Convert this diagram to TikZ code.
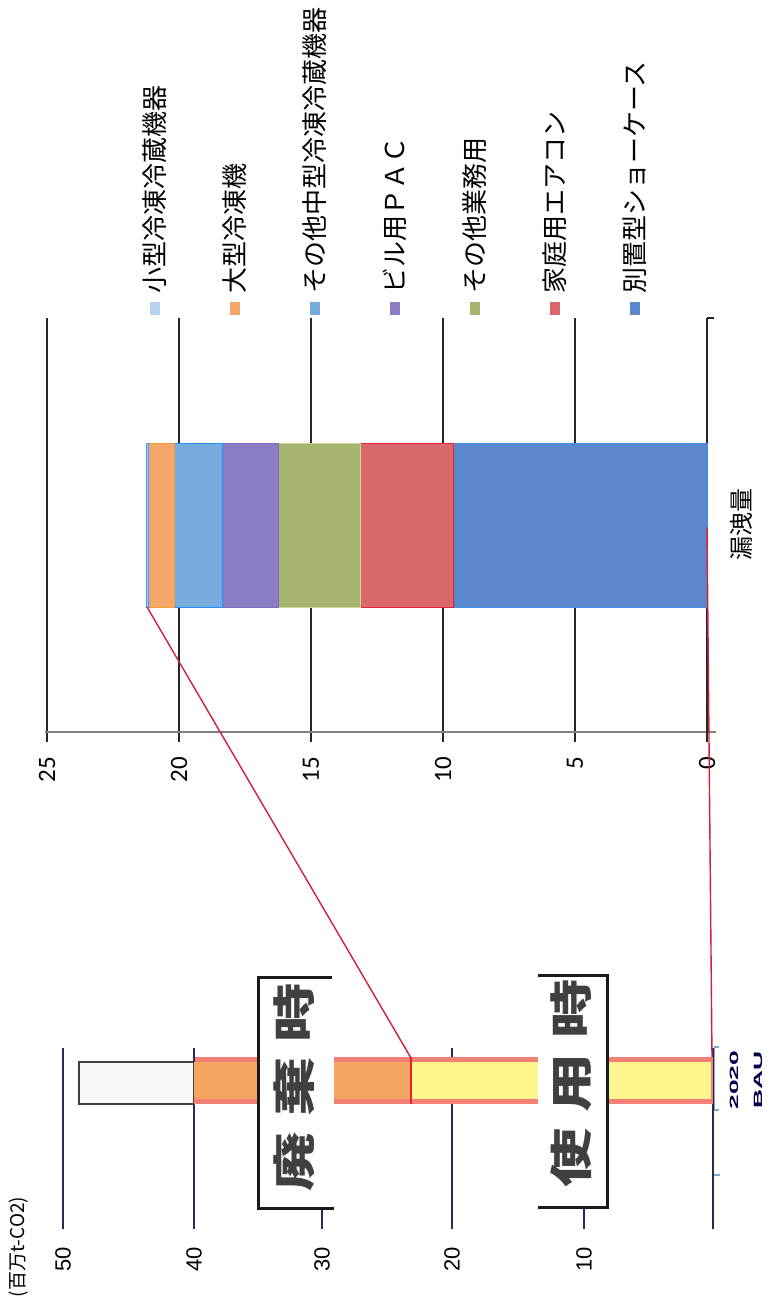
\documentclass[tikz,border=0pt]{standalone}
\usepackage{fontspec}
\newfontfamily\jpfont{Noto Sans CJK JP}
\newfontfamily\calfont{Carlito}
\newfontfamily\arialfont{Liberation Sans}
\definecolor{cBlue}{HTML}{5B87CC}
\definecolor{cRed}{HTML}{D9686A}
\definecolor{cGreen}{HTML}{A5B56F}
\definecolor{cPurple}{HTML}{8B7CC3}
\definecolor{cLBlue}{HTML}{77AADD}
\definecolor{cOrange}{HTML}{F5A76B}
\definecolor{cSmall}{HTML}{B8D2F2}
\definecolor{oBlue}{HTML}{3A8EE6}
\definecolor{oRed}{HTML}{E8203A}
\definecolor{oGreen}{HTML}{C8D890}
\definecolor{oPurple}{HTML}{7C6CC0}
\definecolor{oLBlue}{HTML}{1E90FF}
\definecolor{oOrange}{HTML}{FF9A30}
\definecolor{oSmall}{HTML}{3399FF}
\definecolor{linkred}{HTML}{D0203A}
\definecolor{navyline}{HTML}{2B2A55}
\definecolor{salmon}{HTML}{F38074}
\definecolor{barorange}{HTML}{F2A460}
\definecolor{baryellow}{HTML}{FCF58E}
\definecolor{boxfill}{HTML}{FAF6FC}
\definecolor{axisblue}{HTML}{7FA6C8}
\begin{document}
\begin{tikzpicture}[x=1pt,y=-1pt,
  topgrid/.style={draw=black!85, line width=1.3pt},
  lowgrid/.style={draw=navyline, line width=2pt},
  legtext/.style={rotate=90, anchor=west, inner sep=0pt, font=\jpfont\fontsize{26}{26}\selectfont},
  toplab/.style={rotate=90, anchor=east, inner sep=0pt, font=\calfont\fontsize{25}{25}\selectfont},
  lowlab/.style={rotate=90, anchor=east, inner sep=0pt, font=\arialfont\fontsize{22}{22}\selectfont},
  bigtext/.style={rotate=90, inner sep=0pt, text=black!75, font=\jpfont\bfseries\fontsize{43}{43}\selectfont},
  boxline/.style={draw=black!90, line width=3pt},
  linkline/.style={draw=linkred, line width=1.4pt},
  seg/.style={line width=0.8pt}
]
\useasboundingbox (0,0) rectangle (769,1310);

% ---------- upper chart ----------
\foreach \v/\x in {25/47,20/179,15/311,10/443,5/575}{
  \draw[topgrid] (\x,318) -- (\x,742);
  \node[toplab] (tl\v) at (\x,757) {\v};
}
\node[toplab] (tl0) at (707,757) {0};
\draw[draw=gray, line width=1.5pt] (45,732) -- (716,732);
\draw[topgrid] (707,318) -- (707,742);
\draw[topgrid] (707,318) -- (714,318);

% stacked bar
\filldraw[seg, fill=cBlue, draw=oBlue] (453,443) rectangle (707,607);
\filldraw[seg, fill=cRed, draw=oRed] (360,443) rectangle (453,607);
\filldraw[seg, fill=cGreen, draw=oGreen] (278,443) rectangle (360,607);
\filldraw[seg, fill=cPurple, draw=oPurple] (222,443) rectangle (278,607);
\filldraw[seg, fill=cLBlue, draw=oLBlue] (174,443) rectangle (222,607);
\filldraw[seg, fill=cOrange, draw=oOrange] (148,443) rectangle (174,607);
\filldraw[seg, fill=cSmall, draw=oSmall] (146.5,443) rectangle (148,607);
\coordinate (barcorner) at (147,607);
\coordinate (barzero) at (707,527);

\node[rotate=90, inner sep=0pt, font=\jpfont\fontsize{24}{24}\selectfont] (cat) at (741,524) {漏洩量};

% legend
\foreach \i/\c/\t in {0/cSmall/小型冷凍冷蔵機器,1/cOrange/大型冷凍機,2/cLBlue/その他中型冷凍冷蔵機器,3/cPurple/ビル用ＰＡＣ,4/cGreen/その他業務用,5/cRed/家庭用エアコン,6/cBlue/別置型ショーケース}{
  \fill[\c] ({150+80*\i},302) rectangle ({160+80*\i},315);
  \node[legtext] (leg\i) at ({155+80*\i},294) {\t};
}

% ---------- lower chart ----------
\foreach \v/\x in {50/63,40/194,30/322,20/452,10/584}{
  \draw[lowgrid] (\x,1048) -- (\x,1229);
  \node[lowlab] (ll\v) at (\x,1247) {\v};
}
\draw[lowgrid] (713,1048) -- (713,1229);
\draw[draw=axisblue, line width=1.2pt] (719,1047) -- (714.5,1047) -- (714.5,1110) -- (719,1110);
\draw[draw=axisblue, line width=1.2pt] (714,1175) -- (720,1175);

\node[rotate=90, inner sep=0pt, font=\jpfont\fontsize{19}{19}\selectfont] (unit) at (19,1247) {(百万t-CO2)};

% empty box
\filldraw[fill=boxfill, draw=black!75, line width=2.5pt] (79,1062) rectangle (194,1104);
% bar
\fill[salmon] (194,1057) rectangle (713,1104);
\fill[barorange] (194,1062) rectangle (411,1099);
\fill[baryellow] (411,1062) rectangle (711,1099);
\draw[draw=oRed, line width=1.6pt] (411,1057) -- (411,1104);
\coordinate (divtop) at (411,1058);
\coordinate (lowzero) at (712,1057);
\draw[lowgrid] (194,1048) -- (194,1062);

% boxes with labels
\fill[white] (258,977) rectangle (334,1208);
\draw[boxline] (332,977) -- (258,977) -- (258,1208) -- (334,1208);
\node[bigtext] (haiki) at (294,1087) {\scalebox{1.38}[1]{廃\hspace{11pt}棄\hspace{11pt}時}};

\fill[white] (538,975) rectangle (609,1207);
\draw[boxline] (538,975) -- (607,975) -- (607,1207) -- (538,1207);
\node[bigtext] (shiyo) at (571,1083) {\scalebox{1.38}[1]{使\hspace{11pt}用\hspace{11pt}時}};

\node[rotate=90, align=center, inner sep=0pt, text=blue!30!black, font=\arialfont\bfseries\fontsize{12}{24}\selectfont] (bau) at (746,1080) {\scalebox{2.2}[1]{2020}\\\scalebox{2.2}[1]{BAU}};

% connector lines
\draw[linkline] (barcorner) -- (divtop);
\draw[linkline] (barzero) -- (lowzero);
\end{tikzpicture}
\end{document}
